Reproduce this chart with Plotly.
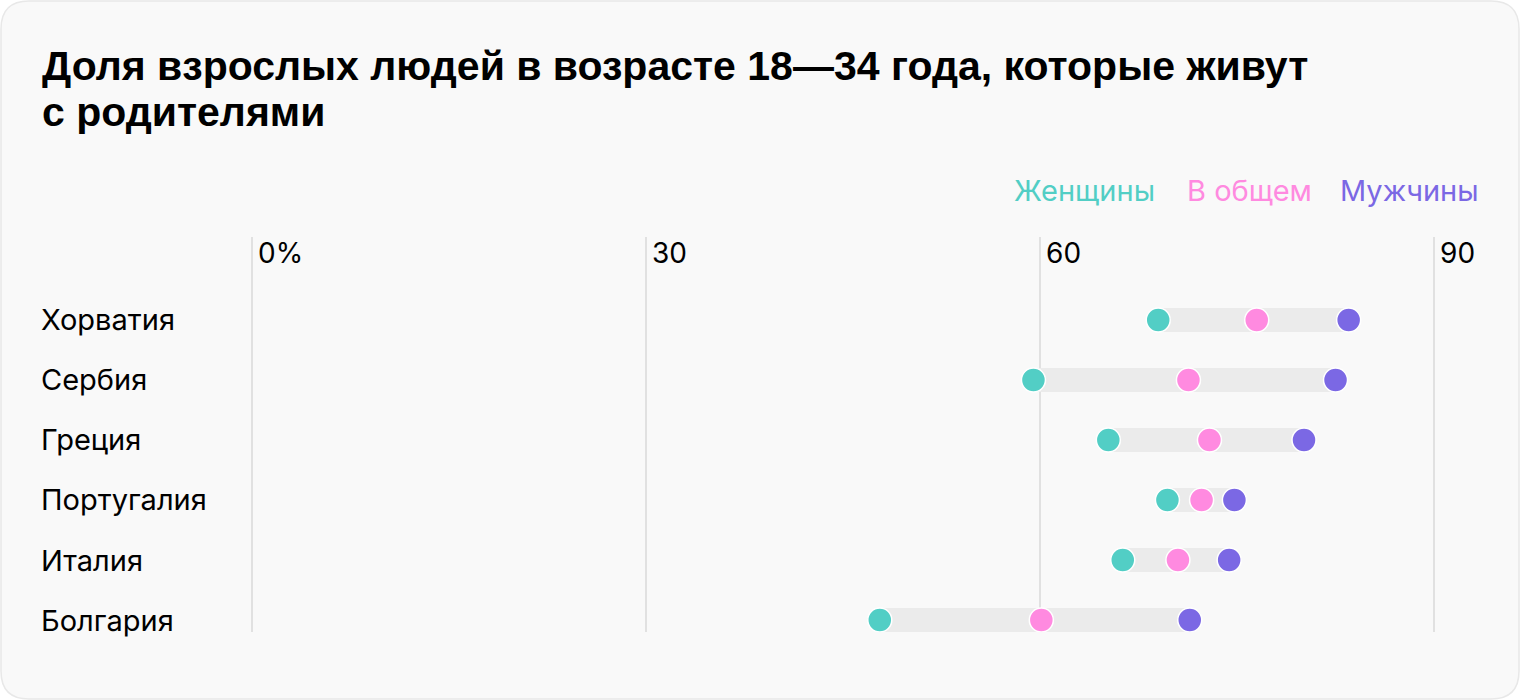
import plotly.graph_objs as go

countries = ["Хорватия", "Сербия", "Греция", "Португалия", "Италия", "Болгария"]
women = [69.0, 59.5, 65.2, 69.7, 66.3, 47.8]
overall = [76.5, 71.3, 72.9, 72.3, 70.5, 60.1]
men = [83.5, 82.5, 80.1, 74.8, 74.4, 71.4]

tick_vals = [0, 30, 60, 90]
tick_text = ["0%", "30", "60", "90"]

series_names = ["Женщины", "В общем", "Мужчины"]
colors = ["#52CEC5", "#FF8AE0", "#7B68E4"]

title_lines = ["Доля взрослых людей в возрасте 18—34 года, которые живут", "с родителями"]

W, H = 1520, 700
L, R, T, B = 250, 40, 237, 68
pw, ph = W - L - R, H - T - B


def px(x):
  return (x - L) / pw


def py(y):
  return (H - B - y) / ph


font = "Inter, Roboto, sans-serif"

fig = go.Figure()

# grey bands women -> men
for i, c in enumerate(countries):
  fig.add_trace(go.Scatter(x=[women[i], men[i]], y=[c, c], mode="lines",
                           line=dict(color="#EBEBEB", width=24),
                           hoverinfo="skip", showlegend=False))

for name, vals, col in zip(series_names, [women, overall, men], colors):
  fig.add_trace(go.Scatter(x=vals, y=countries, mode="markers", name=name,
                           marker=dict(size=24, color=col, line=dict(color="white", width=1.5)),
                           showlegend=False))

# card background with rounded corners
x0, x1, y0, y1 = px(1), px(W - 1), py(H - 1), py(1)
rx, ry = 28 / pw, 28 / ph
path = (f"M {x0+rx},{y1} L {x1-rx},{y1} Q {x1},{y1} {x1},{y1-ry} "
        f"L {x1},{y0+ry} Q {x1},{y0} {x1-rx},{y0} L {x0+rx},{y0} "
        f"Q {x0},{y0} {x0},{y0+ry} L {x0},{y1-ry} Q {x0},{y1} {x0+rx},{y1} Z")
fig.add_shape(type="path", path=path, xref="paper", yref="paper",
              fillcolor="#F9F9F9", line=dict(color="#E8E8E8", width=1.5), layer="below")

# title, one annotation per line to keep tight line spacing
for line, ty in zip(title_lines, [66, 112]):
  fig.add_annotation(x=px(40), y=py(ty), xref="paper", yref="paper", text="<b>" + line + "</b>",
                     showarrow=False, xanchor="left", yanchor="middle",
                     font=dict(family="Liberation Sans, Arial, sans-serif", size=41, color="#000"))

# country labels
for c in countries:
  fig.add_annotation(x=px(39), y=c, xref="paper", yref="y", text=c, showarrow=False,
                     xanchor="left", yanchor="middle", font=dict(family=font, size=29, color="#000"))

# legend
legend_x = [1012, 1185, 1338]
for name, col, lx in zip(series_names, colors, legend_x):
  fig.add_annotation(x=px(lx), y=py(190), xref="paper", yref="paper", text=name,
                     showarrow=False, xanchor="left", yanchor="middle",
                     font=dict(family=font, size=29, color=col))

fig.update_layout(
  width=W, height=H,
  margin=dict(l=L, r=R, t=T, b=B, autoexpand=False),
  paper_bgcolor="white", plot_bgcolor="rgba(0,0,0,0)",
  xaxis=dict(range=[-2 / 13.1333, 93.5], side="top", tickvals=tick_vals, ticktext=tick_text,
             ticklabelposition="inside right", ticklabelshift=6, ticks="", showgrid=True,
             gridcolor="#E1E1E1", gridwidth=2, zeroline=False, showline=False,
             tickfont=dict(family=font, size=28, color="#000"), fixedrange=True),
  yaxis=dict(categoryorder="array", categoryarray=countries, range=[5.2, -1.383],
             showticklabels=False, showgrid=False, zeroline=False, fixedrange=True),
)

fig.write_html("out.html", config={"displayModeBar": False},
               post_script="document.body.style.margin='0';")
